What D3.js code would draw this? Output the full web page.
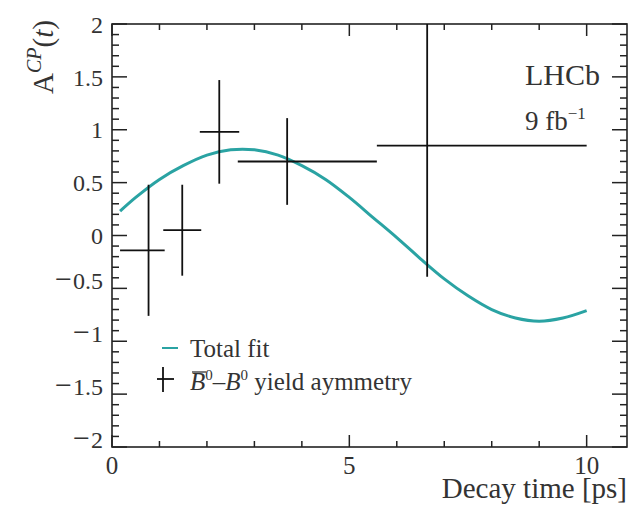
<!DOCTYPE html>
<html>
<head>
    <meta charset="UTF-8">
    <title>A_CP vs decay time</title>
    <script src="https://d3js.org/d3.v7.min.js"></script>
    <style>
        body { margin: 0; background: #fff; }
        text { font-family: "Liberation Serif", "DejaVu Serif", serif; fill: #333; }
        .frame { fill: none; stroke: #222; stroke-width: 1.6px; }
        .tick-line { stroke: #222; stroke-width: 1.5px; }
        .err { stroke: #111; stroke-width: 1.8px; }
        .fit { fill: none; stroke: #2aa3a3; stroke-width: 3px; }
    </style>
</head>
<body>
    <svg width="635" height="505"></svg>
    <script>
        // binned asymmetry points (bin edges, centre, value, error)
        var binLow    = [0.17, 1.08, 1.85, 2.65, 5.58];
        var binHigh   = [1.11, 1.88, 2.68, 5.58, 10.0];
        var binCenter = [0.77, 1.48, 2.26, 3.69, 6.64];
        var asym      = [-0.14, 0.05, 0.98, 0.70, 0.85];
        var asymErr   = [0.62, 0.43, 0.49, 0.41, 1.24];

        // fit curve
        var fitTime = [0.17, 0.5, 1, 1.5, 2, 2.5, 3, 3.5, 4, 4.5, 5, 5.5, 6, 6.5, 7, 7.5, 8, 8.5, 9, 9.5, 10];
        var fitVal  = [0.23, 0.36, 0.53, 0.66, 0.76, 0.81, 0.81, 0.76, 0.66, 0.53, 0.36, 0.17, -0.02, -0.22, -0.41, -0.57, -0.70, -0.78, -0.81, -0.78, -0.71];

        var xMajorTicks = [0, 5, 10];
        var xTickLabels = ["0", "5", "10"];
        var yMajorTicks = [-2, -1.5, -1, -0.5, 0, 0.5, 1, 1.5, 2];
        var yTickLabels = ["2", "1.5", "1", "0.5", "0", "0.5", "1", "1.5", "2"];

        var margin = {left: 112, right: 8, top: 24, bottom: 58};
        var W = 635, H = 505;

        var x = d3.scaleLinear().domain([0, 10.85]).range([margin.left, W - margin.right]);
        var y = d3.scaleLinear().domain([-2, 2]).range([H - margin.bottom, margin.top]);

        var svg = d3.select("svg");

        svg.append("clipPath").attr("id", "plotclip")
            .append("rect")
            .attr("x", x.range()[0]).attr("y", y.range()[1])
            .attr("width", x.range()[1] - x.range()[0])
            .attr("height", y.range()[0] - y.range()[1]);

        // ticks on all four sides
        var ticks = svg.append("g");
        d3.range(0, 11).forEach(function(t) {
            var len = (t % 5 === 0) ? 12 : 6;
            ticks.append("line").attr("class", "tick-line")
                .attr("x1", x(t)).attr("x2", x(t))
                .attr("y1", y(-2)).attr("y2", y(-2) - len);
            ticks.append("line").attr("class", "tick-line")
                .attr("x1", x(t)).attr("x2", x(t))
                .attr("y1", y(2)).attr("y2", y(2) + len);
        });
        d3.range(-20, 21).forEach(function(i) {
            var v = i / 10;
            var len = (i % 5 === 0) ? 15 : 7;
            ticks.append("line").attr("class", "tick-line")
                .attr("x1", x.range()[0]).attr("x2", x.range()[0] + len)
                .attr("y1", y(v)).attr("y2", y(v));
            ticks.append("line").attr("class", "tick-line")
                .attr("x1", x.range()[1]).attr("x2", x.range()[1] - len)
                .attr("y1", y(v)).attr("y2", y(v));
        });

        svg.append("rect").attr("class", "frame")
            .attr("x", x.range()[0]).attr("y", y.range()[1])
            .attr("width", x.range()[1] - x.range()[0])
            .attr("height", y.range()[0] - y.range()[1]);

        // tick labels
        svg.selectAll(".xlab").data(xMajorTicks).enter().append("text")
            .attr("class", "xlab")
            .attr("x", function(d) { return x(d); })
            .attr("y", 474)
            .attr("text-anchor", "middle")
            .style("font-size", "25px")
            .text(function(d, i) { return xTickLabels[i]; });

        // negative labels get a wider (TeX-like) minus
        var ylab = svg.selectAll(".ylab").data(yMajorTicks).enter().append("text")
            .attr("class", "ylab")
            .attr("x", 103)
            .attr("y", function(d) { return y(d); })
            .attr("dy", "0.36em")
            .attr("text-anchor", "end")
            .style("font-size", "24px");
        ylab.filter(function(d) { return d < 0; })
            .append("tspan").style("font-size", "30px").attr("dy", "0.02em").text("\u2212");
        ylab.append("tspan")
            .attr("dx", function(d) { return d < 0 ? 1 : 0; })
            .text(function(d, i) { return yTickLabels[i]; });

        // axis titles
        svg.append("text")
            .attr("x", 627).attr("y", 498)
            .attr("text-anchor", "end")
            .style("font-size", "29px")
            .text("Decay time [ps]");

        var yt = svg.append("text")
            .attr("transform", "translate(53,20) rotate(-90)")
            .attr("text-anchor", "end")
            .style("font-size", "29px");
        yt.append("tspan").text("A");
        yt.append("tspan").attr("dy", -12).style("font-size", "20px").style("font-style", "italic").text("CP");
        yt.append("tspan").attr("dy", 12).text("(");
        yt.append("tspan").style("font-style", "italic").text("t");
        yt.append("tspan").text(")");

        // fit curve
        var line = d3.line()
            .x(function(d, i) { return x(fitTime[i]); })
            .y(function(d) { return y(d); })
            .curve(d3.curveCatmullRom);

        svg.append("path").attr("class", "fit")
            .attr("d", line(fitVal));

        // error bars
        var pts = svg.append("g").attr("clip-path", "url(#plotclip)");
        asym.forEach(function(v, i) {
            pts.append("line").attr("class", "err")
                .attr("x1", x(binLow[i])).attr("x2", x(binHigh[i]))
                .attr("y1", y(v)).attr("y2", y(v));
            pts.append("line").attr("class", "err")
                .attr("x1", x(binCenter[i])).attr("x2", x(binCenter[i]))
                .attr("y1", y(v - asymErr[i])).attr("y2", y(v + asymErr[i]));
        });

        // LHCb label
        svg.append("text").attr("x", 525).attr("y", 85)
            .style("font-size", "30px").text("LHCb");
        var lumi = svg.append("text").attr("x", 525).attr("y", 130)
            .style("font-size", "27px");
        lumi.append("tspan").text("9 fb");
        lumi.append("tspan").attr("dy", -11).style("font-size", "17px").text("\u22121");

        // legend
        svg.append("line").attr("class", "fit")
            .attr("x1", 162).attr("x2", 178).attr("y1", 348).attr("y2", 348)
            .style("stroke-width", "2px");
        svg.append("text").attr("x", 190).attr("y", 357)
            .style("font-size", "25px").text("Total fit");

        svg.append("line").attr("class", "err")
            .attr("x1", 163).attr("x2", 163).attr("y1", 367).attr("y2", 392);
        svg.append("line").attr("class", "err")
            .attr("x1", 157).attr("x2", 174).attr("y1", 379).attr("y2", 379);

        var leg = svg.append("text").attr("x", 190).attr("y", 390)
            .style("font-size", "25px");
        leg.append("tspan").style("font-style", "italic").text("B");
        leg.append("tspan").attr("dy", -10).style("font-size", "15px").text("0");
        leg.append("tspan").attr("dy", 10).text("\u2013");
        leg.append("tspan").style("font-style", "italic").text("B");
        leg.append("tspan").attr("dy", -10).style("font-size", "15px").text("0");
        leg.append("tspan").attr("dy", 10).text(" yield aymmetry");

        // overline on the first B
        var ext = leg.node().getExtentOfChar(0);
        svg.append("line")
            .attr("x1", ext.x + 2).attr("x2", ext.x + ext.width + 1)
            .attr("y1", ext.y + 4).attr("y2", ext.y + 4)
            .style("stroke", "#333").style("stroke-width", "1.3px");
    </script>
</body>
</html>
